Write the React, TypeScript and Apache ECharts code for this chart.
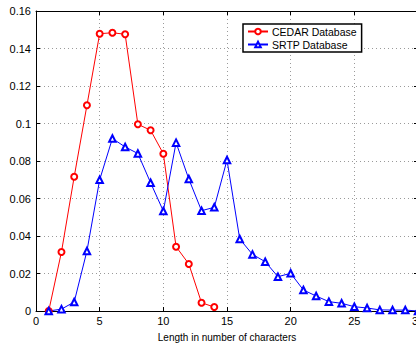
import React, { useEffect, useRef } from "react";
import * as echarts from "echarts";

const lengths = [1, 2, 3, 4, 5, 6, 7, 8, 9, 10, 11, 12, 13, 14, 15, 16, 17, 18, 19, 20, 21, 22, 23, 24, 25, 26, 27, 28, 29, 30];
const cedarLengths = [1, 2, 3, 4, 5, 6, 7, 8, 9, 10, 11, 12, 13, 14];
const cedarValues = [0, 0.0315, 0.0716, 0.1097, 0.1479, 0.1484, 0.1476, 0.0996, 0.0964, 0.0839, 0.0343, 0.0251, 0.0044, 0.0021];
const srtpValues = [0, 0.001, 0.0048, 0.032, 0.070, 0.092, 0.0875, 0.084, 0.0684, 0.0533, 0.0898, 0.0704, 0.0535, 0.0553, 0.0805, 0.0384, 0.0302, 0.0263, 0.0183, 0.0201, 0.0112, 0.008, 0.005, 0.0041, 0.0023, 0.0016, 0.0006, 0.0005, 0.0005, 0];
const xTitle = "Length in number of characters";
const seriesNames = ["CEDAR Database", "SRTP Database"];

export default function App() {
  const ref = useRef<HTMLDivElement>(null);
  useEffect(() => {
    if (!ref.current) return;
    const chart = echarts.init(ref.current, null, { renderer: "svg" });
    const font = "Liberation Sans, Arial, Helvetica, sans-serif";
    const grid = { left: 36, top: 11, right: -2, bottom: 32, containLabel: false, outerBoundsMode: "none" };
    const splitLine = { show: true, lineStyle: { color: "#9a9a9a", type: [1, 3] as any, width: 1 } };
    chart.setOption({
      animation: false,
      backgroundColor: "#fff",
      grid,
      textStyle: { fontFamily: font },
      legend: {
        left: 243,
        top: 24,
        orient: "vertical",
        itemGap: 2,
        itemWidth: 20,
        itemHeight: 7,
        padding: [2, 5, 2, 4],
        borderColor: "#000",
        borderWidth: 1.5,
        backgroundColor: "#fff",
        textStyle: { fontSize: 10.5, color: "#000", fontFamily: font, padding: [0, 0, 0, -1] },
        data: seriesNames,
      },
      xAxis: [
        {
          type: "value",
          min: 0,
          max: 30,
          interval: 5,
          name: xTitle,
          nameLocation: "middle",
          nameGap: 21,
          nameTextStyle: { fontSize: 10, color: "#000", fontFamily: font },
          axisLine: { show: true, onZero: false, lineStyle: { color: "#000", width: 1 } },
          axisTick: { show: true, inside: true, length: 4, lineStyle: { color: "#000" } },
          axisLabel: { fontSize: 11, color: "#000", margin: 4, fontFamily: font },
          splitLine,
        },
        {
          type: "value",
          position: "top",
          min: 0,
          max: 30,
          interval: 5,
          axisLine: { show: true, onZero: false, lineStyle: { color: "#000", width: 1 } },
          axisTick: { show: true, inside: true, length: 4, lineStyle: { color: "#000" } },
          axisLabel: { show: false },
          splitLine: { show: false },
        },
      ],
      yAxis: [
        {
          type: "value",
          min: 0,
          max: 0.16,
          interval: 0.02,
          axisLine: { show: true, onZero: false, lineStyle: { color: "#000", width: 1 } },
          axisTick: { show: true, inside: true, length: 4, lineStyle: { color: "#000" } },
          axisLabel: { fontSize: 11, color: "#000", margin: 5, fontFamily: font },
          splitLine,
        },
        {
          type: "value",
          position: "right",
          min: 0,
          max: 0.16,
          interval: 0.02,
          axisLine: { show: true, onZero: false, lineStyle: { color: "#000", width: 1 } },
          axisTick: { show: true, inside: true, length: 4, lineStyle: { color: "#000" } },
          axisLabel: { show: false },
          splitLine: { show: false },
        },
      ],
      series: [
        {
          name: seriesNames[0],
          type: "line",
          data: cedarLengths.map((x, i) => [x, cedarValues[i]]),
          symbol: "emptyCircle",
          symbolSize: 6,
          lineStyle: { color: "#ff0000", width: 1 },
          itemStyle: { color: "#ff0000", borderColor: "#ff0000", borderWidth: 1 },
        },
        {
          name: seriesNames[1],
          type: "line",
          data: lengths.map((x, i) => [x, srtpValues[i]]),
          symbol: "emptyTriangle",
          symbolSize: 6.5,
          lineStyle: { color: "#0000ff", width: 1 },
          itemStyle: { color: "#0000ff", borderColor: "#0000ff", borderWidth: 1 },
        },
      ],
    });
    return () => chart.dispose();
  }, []);
  return (
    <div
      ref={ref}
      style={{ position: "fixed", left: 0, top: 0, width: 416, height: 343, background: "#fff" }}
    />
  );
}
